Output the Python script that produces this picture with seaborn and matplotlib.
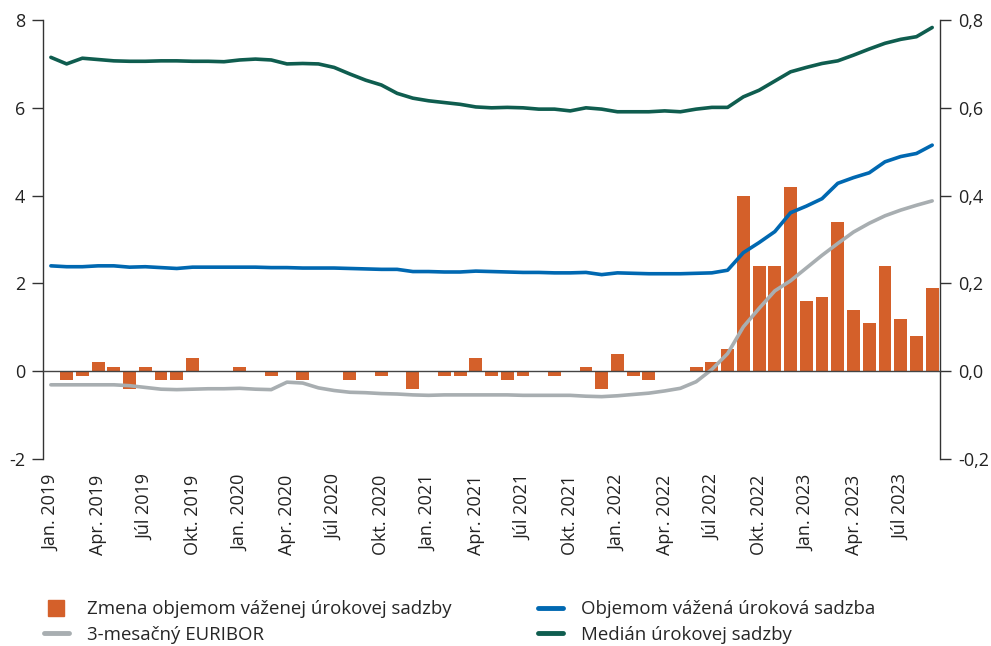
import numpy as np
import pandas as pd
import matplotlib
matplotlib.use("Agg")
import matplotlib.pyplot as plt
from matplotlib.lines import Line2D
from matplotlib.ticker import FuncFormatter
import seaborn as sns

# Mesačné údaje: jan. 2019 - sep. 2023
mesiace = pd.date_range("2019-01-01", "2023-09-01", freq="MS")
idx = np.arange(len(mesiace))

median_sadzby = [7.15, 7.00, 7.13, 7.10, 7.07, 7.06, 7.06, 7.07, 7.07, 7.06, 7.06, 7.05,
                 7.09, 7.11, 7.09, 7.00, 7.01, 7.00, 6.92, 6.77, 6.63, 6.52, 6.33, 6.22,
                 6.16, 6.12, 6.08, 6.02, 6.00, 6.01, 6.00, 5.97, 5.97, 5.93, 6.00, 5.97,
                 5.91, 5.91, 5.91, 5.93, 5.91, 5.97, 6.01, 6.01, 6.25, 6.40, 6.61, 6.82,
                 6.92, 7.01, 7.07, 7.20, 7.34, 7.47, 7.56, 7.62, 7.83]

vazena_sadzba = [2.40, 2.38, 2.38, 2.40, 2.40, 2.37, 2.38, 2.36, 2.34, 2.37, 2.37, 2.37,
                 2.37, 2.37, 2.36, 2.36, 2.35, 2.35, 2.35, 2.34, 2.33, 2.32, 2.32, 2.27,
                 2.27, 2.26, 2.26, 2.28, 2.27, 2.26, 2.25, 2.25, 2.24, 2.24, 2.25, 2.20,
                 2.24, 2.23, 2.22, 2.22, 2.22, 2.23, 2.24, 2.30, 2.70, 2.93, 3.18, 3.61,
                 3.76, 3.93, 4.28, 4.41, 4.52, 4.77, 4.89, 4.96, 5.15]

euribor = [-0.31, -0.31, -0.31, -0.31, -0.31, -0.33, -0.37, -0.41, -0.42, -0.41, -0.40, -0.40,
           -0.39, -0.41, -0.42, -0.25, -0.27, -0.38, -0.44, -0.48, -0.49, -0.51, -0.52, -0.54,
           -0.55, -0.54, -0.54, -0.54, -0.54, -0.54, -0.55, -0.55, -0.55, -0.55, -0.57, -0.58,
           -0.56, -0.53, -0.50, -0.45, -0.39, -0.24, 0.04, 0.40, 1.01, 1.43, 1.83, 2.06,
           2.35, 2.64, 2.91, 3.17, 3.37, 3.54, 3.67, 3.78, 3.88]

zmena_sadzby = [0.00, -0.02, -0.01, 0.02, 0.01, -0.04, 0.01, -0.02, -0.02, 0.03, 0.00, 0.00,
                0.01, 0.00, -0.01, 0.00, -0.02, 0.00, 0.00, -0.02, 0.00, -0.01, 0.00, -0.04,
                0.00, -0.01, -0.01, 0.03, -0.01, -0.02, -0.01, 0.00, -0.01, 0.00, 0.01, -0.04,
                0.04, -0.01, -0.02, 0.00, 0.00, 0.01, 0.02, 0.05, 0.40, 0.24, 0.24, 0.42,
                0.16, 0.17, 0.34, 0.14, 0.11, 0.24, 0.12, 0.08, 0.19]

mes_nazvy = {1: "Jan.", 4: "Apr.", 7: "Júl", 10: "Okt."}
popisky = [f"{mes_nazvy[d.month]} {d.year}" for d in mesiace if d.month in mes_nazvy]
popisky_pos = [i for i, d in zip(idx, mesiace) if d.month in mes_nazvy]

c_bar = "#D4602A"
c_blue = "#0068B1"
c_green = "#0F5D4F"
c_gray = "#A8AEB1"
c_axis = "#333333"

sns.set_style("white")
plt.rcParams["font.family"] = ["Open Sans", "DejaVu Sans"]
plt.rcParams["font.size"] = 13

fig, ax = plt.subplots(figsize=(9.91, 6.46), dpi=100)
fig.subplots_adjust(left=0.0434, right=0.9486, top=0.969, bottom=0.2895)
ax2 = ax.twinx()

# stĺpce na pravej osi
sns.barplot(x=idx, y=zmena_sadzby, ax=ax2, color=c_bar, native_scale=True,
            width=0.82, saturation=1, linewidth=0)

# čiary na ľavej osi
sns.lineplot(x=idx, y=euribor, ax=ax, color=c_gray, linewidth=2.6)
sns.lineplot(x=idx, y=vazena_sadzba, ax=ax, color=c_blue, linewidth=2.6)
sns.lineplot(x=idx, y=median_sadzby, ax=ax, color=c_green, linewidth=2.6)

ax.set_zorder(ax2.get_zorder() + 1)
ax.patch.set_visible(False)

ax.set_xlim(-0.5, len(idx) - 0.5)
ax.set_ylim(-2, 8)
ax2.set_ylim(-0.2, 0.8)
ax.set_yticks([-2, 0, 2, 4, 6, 8])
ax2.set_yticks([-0.2, 0.0, 0.2, 0.4, 0.6, 0.8])
ax.yaxis.set_major_formatter(FuncFormatter(lambda v, p: f"{v:.0f}"))
ax2.yaxis.set_major_formatter(FuncFormatter(lambda v, p: f"{v:.1f}".replace(".", ",")))
ax.set_xlabel("")
ax.set_ylabel("")
ax2.set_ylabel("")

for a in (ax, ax2):
    for s in a.spines.values():
        s.set_visible(False)

ax.spines["left"].set_visible(True)
ax.spines["left"].set_color(c_axis)
ax.spines["left"].set_linewidth(1)
ax2.spines["right"].set_visible(True)
ax2.spines["right"].set_color(c_axis)
ax2.spines["right"].set_linewidth(1)

# nulová línia s ryskami medzi štvrťrokmi
ax.spines["bottom"].set_visible(True)
ax.spines["bottom"].set_position(("data", 0))
ax.spines["bottom"].set_color("#444444")
ax.spines["bottom"].set_linewidth(1)
ax.set_xticks(np.arange(-0.5, len(idx), 3))
ax.set_xticklabels([])
ax.tick_params(axis="x", direction="out", length=7, width=1, color=c_axis)

ax.tick_params(axis="y", left=True, direction="out", length=8, width=1,
               color=c_axis, labelsize=13, pad=5, labelcolor="#222222")
ax2.tick_params(axis="y", right=True, direction="out", length=8, width=1,
                color=c_axis, labelsize=13, pad=5, labelcolor="#222222")

# popisky osi x dole
sec = ax.secondary_xaxis(0)
sec.set_xticks(popisky_pos)
sec.set_xticklabels(popisky, rotation=90)
sec.tick_params(axis="x", length=0, pad=11, labelsize=13, labelcolor="#222222")
sec.spines["bottom"].set_visible(False)

handles = [
    Line2D([], [], marker="s", linestyle="none", markersize=11.5,
           markerfacecolor=c_bar, markeredgecolor=c_bar),
    Line2D([], [], color=c_gray, linewidth=3.5),
    Line2D([], [], color=c_blue, linewidth=3.5),
    Line2D([], [], color=c_green, linewidth=3.5),
]
labels = ["Zmena objemom váženej úrokovej sadzby", "3-mesačný EURIBOR",
          "Objemom vážená úroková sadzba", "Medián úrokovej sadzby"]
fig.legend(handles, labels, ncol=2, loc="upper left", bbox_to_anchor=(0.044, 0.071),
           frameon=False, fontsize=13.4, handlelength=1.35, handletextpad=1.0,
           columnspacing=4.6, labelspacing=0.42, borderpad=0, borderaxespad=0)

fig.savefig("out.png", dpi=100)
